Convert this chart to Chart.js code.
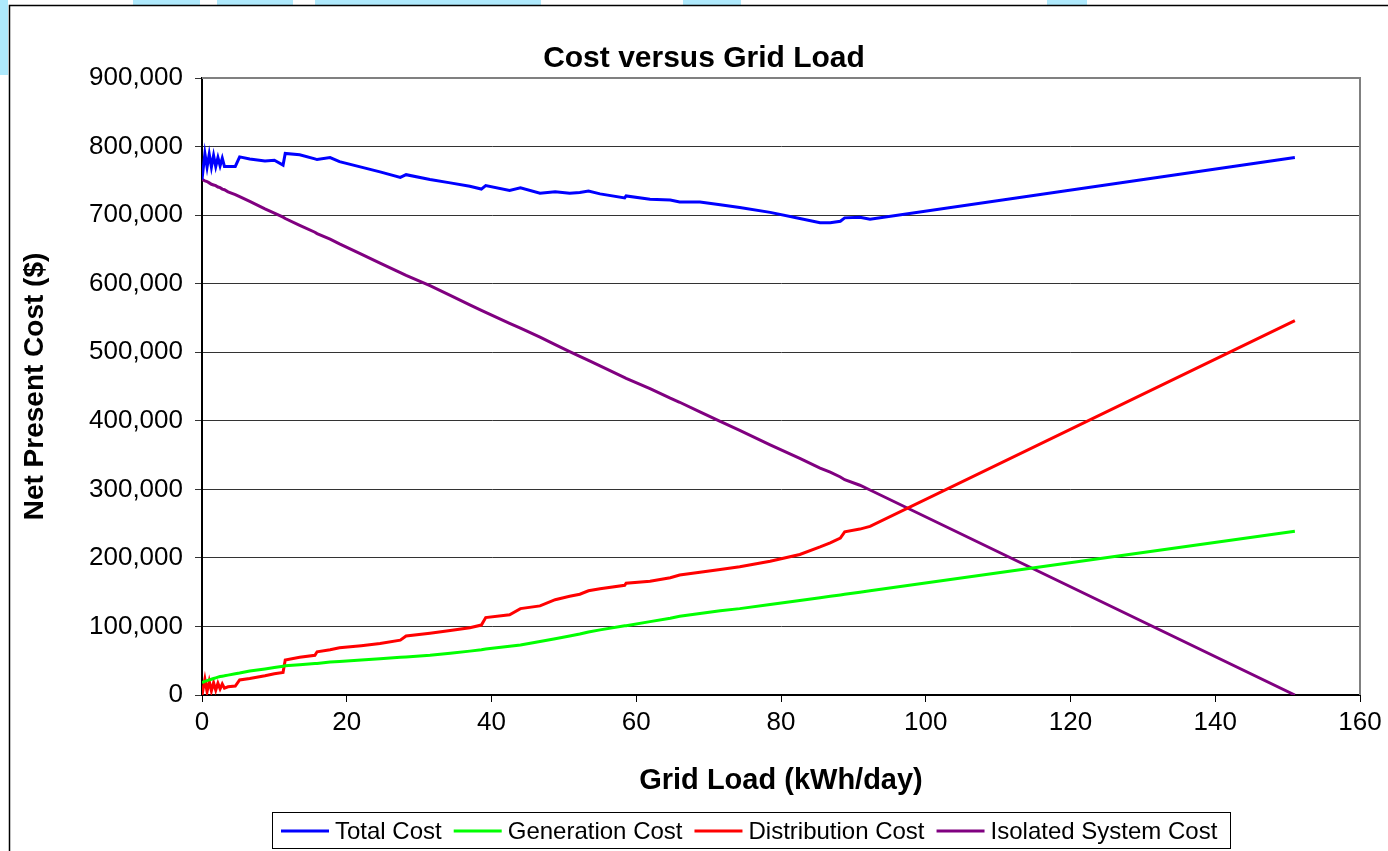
<!DOCTYPE html>
<html>
<head>
<meta charset="utf-8">
<script src="https://cdn.jsdelivr.net/npm/chart.js@4/dist/chart.umd.min.js"></script>
<style>
  html, body { margin: 0; padding: 0; background: #ffffff; }
  #wrap { position: relative; width: 1388px; height: 851px; }
  canvas { display: block; }
</style>
</head>
<body>
<div id="wrap"><canvas id="c" width="1388" height="851"></canvas></div>
<script>
// ---- Data ----
const chartTitle = 'Cost versus Grid Load';
const xAxisTitle = 'Grid Load (kWh/day)';
const yAxisTitle = 'Net Present Cost ($)';
const seriesNames = ['Total Cost', 'Generation Cost', 'Distribution Cost', 'Isolated System Cost'];
const seriesColors = ['#0000FF', '#00FF00', '#FF0000', '#800080'];

// Grid load (kWh/day)
const gridLoad = [0, 0.4, 0.7, 1.0, 1.3, 1.6, 1.9, 2.2, 2.5, 2.8, 3.1, 3.6, 4.6, 5.2, 6.6, 8.7, 10, 11.2, 11.5, 13.5,
  15.6, 15.9, 17.7, 19, 22, 24.6, 27.4, 28.2, 31.5, 34.3, 37, 38.6, 39.2, 42.5, 44, 46.7, 48.8, 50.8, 52.2, 53.4,
  55, 58.4, 58.6, 61.9, 64.7, 66, 68.8, 71.6, 74.3, 78.5, 82.6, 85.4, 86.8, 88.2, 88.8, 90.9, 92.3, 151];

// Net present cost values, in thousands of $
const totalCostK = [752, 790, 770, 789, 770, 787, 771, 784, 772, 783, 771, 771, 771, 785, 782, 779, 780, 773, 790, 788,
  782, 781, 784, 778, 770, 763, 755, 759, 752, 747, 742, 738, 743, 736, 740, 732, 734, 732, 733, 735,
  731, 725, 728, 723, 722, 719, 719, 715, 711, 704, 695, 689, 689, 691, 696, 697, 694, 784];
const generationCostK = [18, 20, 21, 22, 23, 24, 25, 26, 27, 27.5, 28, 29, 31, 32, 35, 38, 40, 42, 42.5, 44,
  46, 46, 48, 49, 51, 53, 55, 55.5, 58, 61, 64, 66, 67, 71, 73, 78, 82, 86, 89, 92,
  95, 101, 101, 107, 112, 115, 119, 123, 126, 132, 138, 142, 144, 146, 147, 150, 152, 239];
const distributionCostK = [0, 23, 5, 20, 6, 18, 7, 17, 9, 16, 10, 12, 13, 22, 24, 28, 31, 33, 51, 55,
  58, 63, 66, 69, 72, 75, 80, 86, 90, 94, 98, 102, 113, 117, 126, 130, 139, 144, 147, 152,
  155, 160, 163, 166, 171, 175, 179, 183, 187, 195, 205, 216, 222, 229, 238, 242, 246, 546];
const isolatedCostK = [752, 750, 749, 747, 745, 744, 743, 741, 740, 738, 737, 734, 730, 727, 720, 709, 703, 697, 695, 685,
  675, 673, 665, 658, 643, 630, 616, 612, 597, 583, 569, 561, 558, 542, 535, 522, 511, 501, 494, 488,
  480, 463, 462, 447, 433, 427, 413, 399, 386, 365, 345, 331, 325, 318, 314, 306, 299, 0];

const xTicks = [0, 20, 40, 60, 80, 100, 120, 140, 160];
const yTicks = [0, 100000, 200000, 300000, 400000, 500000, 600000, 700000, 800000, 900000];

// ---- Build datasets ----
const seriesValues = [totalCostK, generationCostK, distributionCostK, isolatedCostK];
const datasets = seriesValues.map((vals, i) => ({
  label: seriesNames[i],
  data: gridLoad.map((x, j) => ({ x: x, y: vals[j] * 1000 })),
  borderColor: seriesColors[i],
  backgroundColor: seriesColors[i],
  borderWidth: 3,
  pointRadius: 0,
  tension: 0,
  fill: false
}));

const FONT = '"Liberation Sans", Arial, Helvetica, sans-serif';

const decorPlugin = {
  id: 'decor',
  beforeDraw(chart) {
    const ctx = chart.ctx;
    ctx.save();
    // faint watermark pieces outside the chart frame
    ctx.fillStyle = '#aee9fc';
    [[133, 200], [217, 293], [315, 541], [683, 741], [1047, 1087]].forEach(([a, b]) => ctx.fillRect(a, 0, b - a, 5));
    ctx.fillRect(0, 0, 8, 75);
    // outer frame
    ctx.strokeStyle = '#000';
    ctx.lineWidth = 1.5;
    ctx.beginPath();
    ctx.moveTo(9.5, 851);
    ctx.lineTo(9.5, 5.5);
    ctx.lineTo(1388, 5.5);
    ctx.stroke();
    ctx.restore();
  },
  afterDraw(chart) {
    const ctx = chart.ctx;
    const a = chart.chartArea;
    ctx.save();
    // plot area top/right border in gray
    ctx.strokeStyle = '#808080';
    ctx.lineWidth = 2;
    ctx.beginPath();
    ctx.moveTo(a.left, a.top);
    ctx.lineTo(a.right, a.top);
    ctx.lineTo(a.right, a.bottom);
    ctx.stroke();

    // title
    ctx.fillStyle = '#000';
    ctx.font = 'bold 30px ' + FONT;
    ctx.textAlign = 'center';
    ctx.textBaseline = 'middle';
    ctx.fillText(chartTitle, 704, 59);

    // legend
    ctx.font = '24px ' + FONT;
    const lineW = 48, gapLT = 6, gapItem = 12;
    let x = 281;
    const cy = 831;
    chart.data.datasets.forEach((ds) => {
      ctx.strokeStyle = ds.borderColor;
      ctx.lineWidth = 3;
      ctx.beginPath();
      ctx.moveTo(x, cy);
      ctx.lineTo(x + lineW, cy);
      ctx.stroke();
      x += lineW + gapLT;
      ctx.fillStyle = '#000';
      ctx.textAlign = 'left';
      ctx.fillText(ds.label, x, cy + 1);
      x += ctx.measureText(ds.label).width + gapItem;
    });
    ctx.strokeStyle = '#000';
    ctx.lineWidth = 1;
    ctx.strokeRect(272.5, 812.5, 958, 36);
    ctx.restore();
  }
};

new Chart(document.getElementById('c'), {
  type: 'line',
  data: { datasets: datasets },
  plugins: [decorPlugin],
  options: {
    responsive: false,
    animation: false,
    devicePixelRatio: 1,
    layout: { padding: { left: 0, right: 28, top: 78, bottom: 0 } },
    plugins: {
      legend: { display: false },
      title: { display: false },
      tooltip: { enabled: false }
    },
    scales: {
      x: {
        type: 'linear',
        min: 0, max: 160,
        afterFit(scale) { scale.height = 156; scale.paddingLeft = 0; scale.paddingRight = 0; },
        afterBuildTicks(scale) { scale.ticks = xTicks.map(v => ({ value: v })); },
        border: { display: true, color: '#000', width: 2 },
        grid: { drawOnChartArea: false, drawTicks: true, tickLength: 7, tickColor: '#000', tickWidth: 1 },
        ticks: { color: '#000', font: { family: FONT, size: 26 }, padding: 5, maxRotation: 0, autoSkip: false },
        title: { display: true, text: xAxisTitle, color: '#000', font: { family: FONT, size: 29, weight: 'bold' }, padding: { top: 0, bottom: 53 } }
      },
      y: {
        type: 'linear',
        min: 0, max: 900000,
        afterFit(scale) { scale.width = 202; },
        afterBuildTicks(scale) { scale.ticks = yTicks.map(v => ({ value: v })); },
        border: { display: true, color: '#000', width: 2 },
        grid: { color: '#333333', lineWidth: 1, drawTicks: true, tickLength: 7, tickColor: '#333333' },
        ticks: {
          color: '#000', font: { family: FONT, size: 26 }, padding: 12, autoSkip: false,
          callback: (v) => Number(v).toLocaleString('en-US')
        },
        title: { display: true, text: yAxisTitle, color: '#000', font: { family: FONT, size: 28, weight: 'bold' }, padding: { top: 18, bottom: 0 } }
      }
    }
  }
});
</script>
</body>
</html>
